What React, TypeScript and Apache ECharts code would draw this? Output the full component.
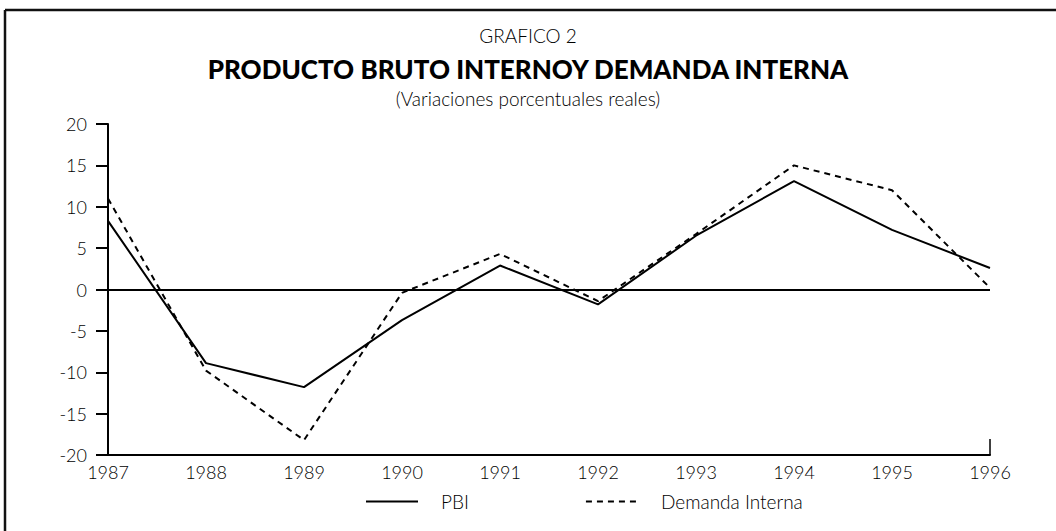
import React, { useEffect, useRef } from "react";
import * as echarts from "echarts";

const years = ["1987", "1988", "1989", "1990", "1991", "1992", "1993", "1994", "1995", "1996"];
const pbi = [8.3, -8.9, -11.8, -3.7, 2.9, -1.8, 6.5, 13.1, 7.2, 2.6];
const demanda = [11.0, -9.8, -18.2, -0.4, 4.3, -1.4, 6.7, 15.0, 12.0, 0.2];
const yMin = -20;
const yMax = 20;
const yStep = 5;

const FONT = "Lato, 'Open Sans', sans-serif";
const INK = "#000";

export default function App() {
  const ref = useRef<HTMLDivElement>(null);

  useEffect(() => {
    if (!ref.current) return;
    const chart = echarts.init(ref.current, null, { renderer: "svg" });
    const lastIdx = years.length - 1;
    chart.setOption({
      animation: false,
      backgroundColor: "#fff",
      textStyle: { fontFamily: FONT, color: INK },
      title: [
        {
          text: "GRAFICO 2",
          left: "center",
          top: 25,
          padding: 0,
          textStyle: { fontFamily: FONT, fontSize: 19, lineHeight: 20, fontWeight: 300, color: INK },
        },
        {
          text: "PRODUCTO BRUTO INTERNOY DEMANDA INTERNA",
          left: "center",
          top: 56,
          padding: 0,
          textStyle: { fontFamily: FONT, fontSize: 26, lineHeight: 26, fontWeight: 900, color: INK },
        },
        {
          text: "(Variaciones porcentuales reales)",
          left: "center",
          top: 88,
          padding: 0,
          textStyle: { fontFamily: FONT, fontSize: 19, lineHeight: 20, fontWeight: 300, color: INK },
        },
      ],
      graphic: [
        { type: "line", shape: { x1: 5, y1: 10, x2: 1056, y2: 10 }, style: { stroke: "#111", lineWidth: 2.5 } },
        { type: "line", shape: { x1: 5, y1: 10, x2: 5, y2: 531 }, style: { stroke: "#111", lineWidth: 2.5 } },
      ],
      legend: {
        left: 360,
        top: 487,
        itemWidth: 52,
        itemHeight: 14,
        itemGap: 116,
        itemStyle: { opacity: 0 },
        textStyle: { fontFamily: FONT, fontSize: 19, fontWeight: 300, color: INK, padding: [0, 0, 0, 18] },
        data: ["PBI", "Demanda Interna"],
      },
      grid: { left: 108, right: 66, top: 124, bottom: 76, containLabel: false },
      xAxis: {
        type: "category",
        data: years,
        boundaryGap: false,
        axisLine: { show: true, onZero: false, lineStyle: { color: INK, width: 2 } },
        axisTick: {
          show: true,
          inside: true,
          length: 16,
          interval: (i: number) => i === lastIdx,
          lineStyle: { color: INK, width: 1.5 },
        },
        axisLabel: { fontFamily: FONT, fontSize: 18, fontWeight: 300, color: INK, margin: 8 },
        splitLine: { show: false },
      },
      yAxis: {
        type: "value",
        min: yMin,
        max: yMax,
        interval: yStep,
        axisLine: { show: true, lineStyle: { color: INK, width: 2 } },
        axisTick: { show: true, length: 12, lineStyle: { color: INK, width: 2 } },
        axisLabel: { fontFamily: FONT, fontSize: 18, fontWeight: 300, color: INK, margin: 21 },
        splitLine: { show: false },
      },
      series: [
        {
          name: "PBI",
          type: "line",
          data: pbi,
          symbol: "none",
          lineStyle: { color: INK, width: 2, type: "solid" },
          itemStyle: { color: INK },
          markLine: {
            silent: true,
            symbol: "none",
            label: { show: false },
            lineStyle: { color: INK, width: 2, type: "solid" },
            data: [{ yAxis: 0 }],
          },
        },
        {
          name: "Demanda Interna",
          type: "line",
          data: demanda,
          symbol: "none",
          lineStyle: { color: INK, width: 2, type: [6, 5] },
          itemStyle: { color: INK },
        },
      ],
    });
    return () => chart.dispose();
  }, []);

  return (
    <div
      ref={ref}
      style={{ position: "fixed", left: 0, top: 0, width: 1056, height: 531, background: "#fff" }}
    />
  );
}
